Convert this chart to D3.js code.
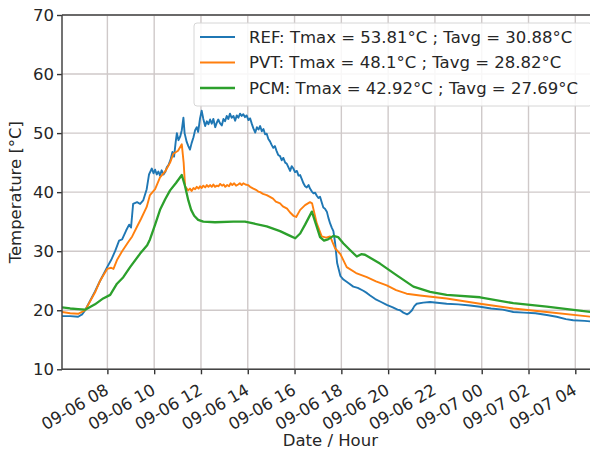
<!DOCTYPE html>
<html><head><meta charset="utf-8">
<script src="https://cdn.jsdelivr.net/npm/d3@7"></script>
<style>body{margin:0;background:#fff} text{font-family:"DejaVu Sans",sans-serif;fill:#262626}</style>
</head><body><svg id="c" width="590" height="450"></svg>
<script>
// hours since 09-06 00:00
const refHours = [6.06,6.41,6.75,6.92,7.05,7.47,7.69,7.99,8.16,8.33,8.5,8.63,8.8,8.93,9.01,9.1,9.27,9.4,9.53,9.68,9.78,9.9,9.97,10.04,10.11,10.18,10.25,10.32,10.4,10.47,10.54,10.61,10.7,10.78,10.85,10.92,10.97,11.04,11.11,11.18,11.25,11.3,11.39,11.46,11.53,11.6,11.68,11.75,11.82,11.88,11.96,12.03,12.1,12.18,12.25,12.32,12.39,12.46,12.53,12.61,12.68,12.74,12.81,12.89,12.96,13.03,13.1,13.17,13.24,13.31,13.39,13.46,13.53,13.6,13.67,13.74,13.81,13.88,13.95,14.03,14.1,14.17,14.24,14.32,14.39,14.46,14.53,14.6,14.67,14.74,14.81,14.88,14.95,15.02,15.09,15.16,15.23,15.3,15.38,15.45,15.52,15.6,15.67,15.74,15.81,15.88,15.95,16.02,16.1,16.17,16.24,16.31,16.38,16.45,16.52,16.6,16.66,16.74,16.81,16.88,16.95,17.02,17.09,17.16,17.23,17.3,17.38,17.45,17.52,17.59,17.66,17.73,17.82,17.96,18.09,18.3,18.51,18.7,18.94,19.1,19.23,19.45,19.7,19.94,20.2,20.4,20.51,20.65,20.81,20.9,21.02,21.12,21.22,21.5,21.79,22.5,23.0,23.5,23.93,24.4,24.9,25.35,25.8,26.3,26.78,27.2,27.6,27.91,28.4,28.9];
const refTemp  = [19.0,19.0,18.9,19.3,20.0,23.2,25.0,27.3,28.5,30.0,31.8,32.0,33.5,34.5,34.0,38.0,38.3,38.0,38.6,40.5,43.0,44.0,43.2,43.8,43.0,43.5,42.8,43.7,43.0,43.4,44.2,44.6,45.5,46.8,46.0,48.5,50.0,48.8,49.4,50.5,52.6,50.0,48.5,47.8,47.2,48.3,49.3,50.5,51.0,50.2,52.5,53.8,52.4,51.2,52.0,51.5,52.3,51.6,52.4,51.0,51.8,52.3,51.7,51.3,52.4,52.0,52.9,52.4,53.3,52.6,52.9,52.1,53.0,52.6,53.3,52.9,53.2,52.7,53.0,52.2,52.5,51.6,50.8,50.1,51.0,50.6,51.2,50.3,50.7,49.8,49.9,49.0,48.6,48.0,47.5,47.8,47.0,46.3,46.1,45.4,45.8,45.0,44.8,44.2,43.6,44.4,44.0,43.4,43.6,42.8,42.9,42.2,41.5,41.0,40.8,41.2,40.6,40.1,39.8,39.9,39.4,39.0,39.2,38.3,37.4,37.2,36.7,35.6,34.7,34.0,33.4,31.5,28.0,25.8,25.2,24.6,24.0,23.8,23.3,22.9,22.5,21.9,21.4,20.9,20.5,20.1,20.0,19.6,19.3,19.5,20.0,20.7,21.1,21.3,21.4,21.1,21.0,20.8,20.6,20.3,20.1,19.7,19.6,19.5,19.2,18.9,18.5,18.3,18.2,18.0];

const pvtHours = [6.06,6.41,6.75,7.05,7.47,7.69,7.99,8.16,8.26,8.41,8.63,8.9,9.06,9.26,9.44,9.68,9.82,10.04,10.25,10.47,10.68,10.82,11.02,11.18,11.26,11.32,11.45,11.53,11.6,11.68,11.75,11.82,11.9,11.96,12.03,12.1,12.18,12.25,12.32,12.39,12.46,12.53,12.6,12.68,12.75,12.82,12.9,12.97,13.04,13.12,13.2,13.27,13.34,13.42,13.5,13.59,13.66,13.74,13.81,13.9,14.01,14.1,14.24,14.35,14.45,14.53,14.65,14.81,14.95,15.08,15.2,15.38,15.5,15.68,15.8,15.95,16.07,16.24,16.45,16.66,16.75,16.95,17.16,17.35,17.52,17.73,17.96,18.23,18.63,19.09,19.48,19.94,20.34,20.79,21.36,22.5,23.93,25.35,26.78,28.9];
const pvtTemp  = [19.7,19.5,19.4,20.0,23.0,25.0,27.0,27.2,27.0,28.5,30.0,31.6,32.5,34.1,35.5,37.5,39.5,40.5,42.5,43.5,45.0,46.5,47.0,48.1,45.0,41.0,40.3,40.6,40.2,40.7,40.5,40.9,40.6,41.0,40.7,41.1,40.8,41.2,40.9,41.2,40.9,41.3,40.9,41.1,41.0,41.4,41.1,41.3,40.9,41.2,41.0,41.5,41.2,41.5,41.1,41.3,41.5,41.2,41.5,41.3,41.2,40.9,40.6,40.4,40.1,40.0,39.7,39.5,39.2,38.9,38.4,38.1,37.6,37.2,36.6,36.0,35.8,37.0,37.8,38.3,38.1,34.7,32.5,32.3,32.5,30.5,29.5,27.3,26.3,25.6,24.9,24.2,23.4,22.8,22.5,22.0,21.1,20.3,19.7,18.8];

const pcmHours = [6.06,6.41,6.75,7.05,7.47,7.82,8.12,8.41,8.68,8.97,9.4,9.7,9.82,10.04,10.25,10.47,10.68,10.94,11.18,11.32,11.46,11.58,11.71,11.88,12.1,12.6,13.38,13.88,14.24,14.81,15.38,15.81,16.03,16.24,16.45,16.74,16.92,17.09,17.26,17.43,17.66,17.86,18.09,18.37,18.66,18.85,19.01,19.65,20.34,21.08,21.79,22.5,23.93,25.35,26.78,28.9];
const pcmTemp  = [20.5,20.3,20.2,20.1,21.0,22.0,22.6,24.5,25.6,27.3,29.6,31.0,32.0,34.5,37.0,38.8,40.3,41.6,42.9,41.0,38.6,37.0,36.0,35.3,35.0,34.9,35.0,35.0,34.7,34.2,33.4,32.6,32.2,33.0,34.5,36.7,34.5,32.4,31.8,32.0,32.6,32.4,31.3,30.2,29.1,29.5,29.4,27.9,26.0,24.0,23.1,22.6,22.2,21.2,20.6,19.6];

const seriesNames = ["REF: Tmax = 53.81°C ; Tavg = 30.88°C","PVT: Tmax = 48.1°C ; Tavg = 28.82°C","PCM: Tmax = 42.92°C ; Tavg = 27.69°C"];
const seriesColors = ["#1f77b4","#ff7f0e","#2ca02c"];
const tickHours = [8,10,12,14,16,18,20,22,24,26,28];
const tickLabels = ["09-06 08","09-06 10","09-06 12","09-06 14","09-06 16","09-06 18","09-06 20","09-06 22","09-07 00","09-07 02","09-07 04"];
const yTicks = [10,20,30,40,50,60,70];

const base = new Date(2023, 8, 6, 0, 0, 0).getTime();
const toDate = h => new Date(base + h * 3600e3);

const FS = 16.5;
const L = 62, R = 598.7, T = 15, B = 369.3;
const svg = d3.select("#c");
const x = d3.scaleTime().domain([toDate(6.06), toDate(29.0)]).range([L, R]);
const y = d3.scaleLinear().domain([10, 70]).range([B, T]);

// grid
const g = svg.append("g");
g.selectAll(".vg").data(tickHours).join("line")
  .attr("x1", d => x(toDate(d))).attr("x2", d => x(toDate(d)))
  .attr("y1", T).attr("y2", B).attr("stroke", "#cfc9c9").attr("stroke-width", 1.4);
g.selectAll(".hg").data(yTicks).join("line")
  .attr("x1", L).attr("x2", R).attr("y1", d => y(d)).attr("y2", d => y(d))
  .attr("stroke", "#cfc9c9").attr("stroke-width", 1.4);

// lines
svg.append("clipPath").attr("id", "clip").append("rect")
  .attr("x", L).attr("y", T).attr("width", R - L).attr("height", B - T);
const series = [[refHours, refTemp], [pvtHours, pvtTemp], [pcmHours, pcmTemp]];
const line = d3.line().x(d => x(toDate(d[0]))).y(d => y(d[1]));
series.forEach((s, i) => {
  const pts = s[0].map((h, j) => [h, s[1][j]]);
  svg.append("path").attr("clip-path", "url(#clip)").attr("d", line(pts))
    .attr("fill", "none").attr("stroke", seriesColors[i])
    .attr("stroke-width", i === 2 ? 2.3 : 1.9).attr("stroke-linejoin", "round");
});

// axes
const xAxis = d3.axisBottom(x).tickValues(tickHours.map(toDate))
  .tickFormat((d, i) => tickLabels[i]).tickSizeOuter(0).tickSize(5).tickPadding(3);
const gx = svg.append("g").attr("transform", `translate(0,${B})`).call(xAxis);
gx.select(".domain").remove();
gx.selectAll(".tick line").attr("stroke", "#333").attr("stroke-width", 1.4);
gx.selectAll(".tick text").attr("font-size", FS).attr("fill", "#262626")
  .attr("text-anchor", "end").attr("y", 0).attr("dy", 0)
  .attr("transform", "translate(2,24) rotate(-30)");

const yAxis = d3.axisLeft(y).tickValues(yTicks).tickSize(5).tickPadding(3).tickSizeOuter(0);
const gy = svg.append("g").attr("transform", `translate(${L},0)`).call(yAxis);
gy.select(".domain").remove();
gy.selectAll(".tick line").attr("stroke", "#333").attr("stroke-width", 1.4);
gy.selectAll(".tick text").attr("font-size", FS).attr("fill", "#262626");

// spines
[[L, L, T, B], [L, R, B, B], [L, R, T, T], [R, R, T, B]].forEach(s => {
  svg.append("line").attr("x1", s[0]).attr("x2", s[1]).attr("y1", s[2]).attr("y2", s[3])
    .attr("stroke", "#444").attr("stroke-width", 1.5);
});

// titles
svg.append("text").attr("x", (L + R) / 2).attr("y", 446).attr("text-anchor", "middle")
  .attr("font-size", FS).text("Date / Hour");
svg.append("text").attr("transform", `translate(21,${(T + B) / 2}) rotate(-90)`)
  .attr("text-anchor", "middle").attr("font-size", FS).text("Temperature [°C]");

// legend
const lg = svg.append("g");
lg.append("rect").attr("x", 194).attr("y", 23).attr("width", 398).attr("height", 83)
  .attr("rx", 3).attr("fill", "#fff").attr("fill-opacity", 0.85).attr("stroke", "#d6d6d6").attr("stroke-width", 1);
seriesNames.forEach((name, i) => {
  const yy = 37 + i * 25.5;
  lg.append("line").attr("x1", 200).attr("x2", 235).attr("y1", yy).attr("y2", yy)
    .attr("stroke", seriesColors[i]).attr("stroke-width", i === 2 ? 2.3 : 1.9);
  lg.append("text").attr("x", 249).attr("y", yy).attr("dy", "0.36em")
    .attr("font-size", FS).text(name);
});
</script></body></html>
